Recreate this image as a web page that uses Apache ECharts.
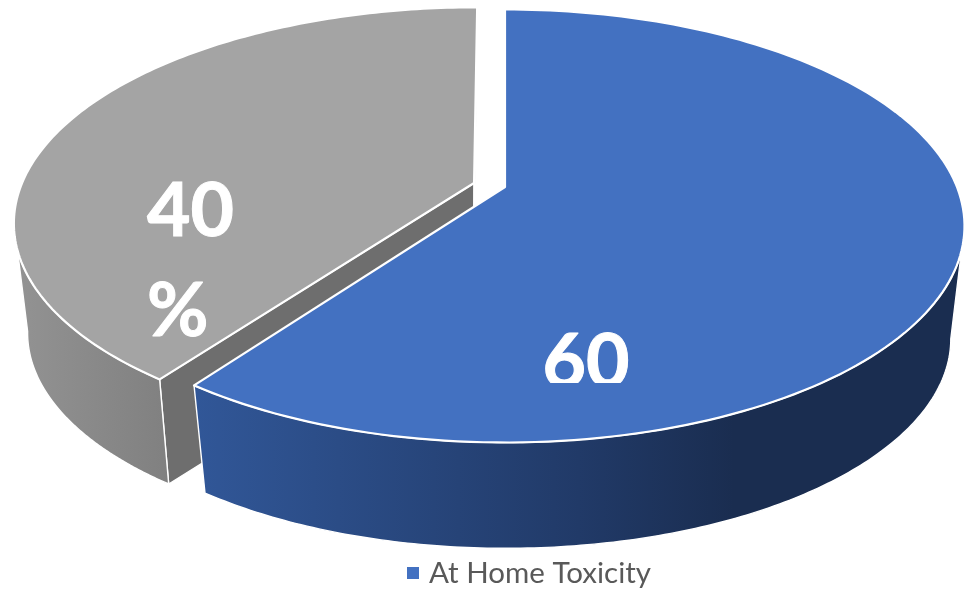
<!DOCTYPE html>
<html><head><meta charset="utf-8">
<style>html,body{margin:0;padding:0;background:#fff}#c{width:965px;height:591px}</style>
<script src="https://cdn.jsdelivr.net/npm/echarts@6/dist/echarts.min.js"></script>
</head><body><div id="c"></div>
<script>
const legendLabels = ['At Home Toxicity'];
const sliceValues = [60, 40];
const sliceLabels = [['60'], ['40', '%']];

const TAU = Math.PI * 2;
const geo = {cx:505, cy:187, R:452, Ry:209.5, k:0.18, s:0.968, bx:506, by:301};
const sliceStyle = [
  {top:'#4371C1', dx:0, dy:0, skew:0, vs:0, bdy:0, label:[586,363], align:'center', cover:[530,383,115,40],
   side:[[0,'#315798'],[0.5,'#213a68'],[0.7,'#1a2d50'],[1,'#1a2d50']]},
  {top:'#A4A4A4', dx:-31, dy:-4, skew:0.0175, vs:0.01, bdy:-2, label:[147,212], align:'left', wall:'#6e6e6e',
   side:[[0,'#939393'],[1,'#808080']]}
];
const FRONT_START = Math.PI - Math.asin(Math.sqrt(1 - geo.k * geo.k));
const FRONT_END = TAU - FRONT_START;

function place(x, y, off, bottom){
  const px = x + off.dx, py = y + off.dy;
  return [px - off.skew * (py - geo.cy), py - off.vs * (py - geo.cy) + (bottom ? off.bdy : 0)];
}
function pt(theta, off, bottom){
  const w = 1 + geo.k * Math.cos(theta);
  let x = geo.cx + geo.R * Math.sin(theta) / w;
  let y = geo.cy - geo.Ry * Math.cos(theta) / w;
  if (bottom){ x = geo.bx + geo.s * (x - geo.cx); y = geo.by + geo.s * (y - geo.cy); }
  return place(x, y, off, bottom);
}
function apex(off, bottom){
  return bottom ? place(geo.bx, geo.by, off, true) : place(geo.cx, geo.cy, off, false);
}
function arc(a, b, off, bottom){
  const pts = [], n = 160;
  for (let i = 0; i <= n; i++) pts.push(pt(a + (b - a) * i / n, off, bottom));
  return pts;
}
const total = sliceValues.reduce((p, v) => p + v, 0);
function range(i){
  let before = 0;
  for (let j = 0; j < i; j++) before += sliceValues[j];
  return [before / total * TAU, (before + sliceValues[i]) / total * TAU];
}
function poly(points, fill, z2, lineWidth){
  return {type:'polygon', z2, shape:{points},
    style:{fill, stroke:'#fff', lineWidth, lineJoin:'round'}};
}
function renderItem(params, api){
  const i = api.value(0), st = sliceStyle[i], [a, b] = range(i);
  const base = i === 0 ? 10 : 0;
  const kids = [];
  const f0 = Math.max(a, FRONT_START), f1 = Math.min(b, FRONT_END);
  if (st.wall){
    for (const t of [a, b]){
      kids.push(poly([apex(st,false), pt(t,st,false), pt(t,st,true), apex(st,true)], st.wall, base + 1, 1.4));
    }
  }
  if (f1 > f0){
    kids.push(poly(arc(f0,f1,st,false).concat(arc(f0,f1,st,true).reverse()),
      {type:'linear', x:0, y:0, x2:1, y2:0,
       colorStops: st.side.map(c => ({offset:c[0], color:c[1]}))}, base + 2, 1.4));
  }
  kids.push(poly([apex(st,false)].concat(arc(a,b,st,false)), st.top, base + 3, 2.2));
  const lines = sliceLabels[i];
  lines.forEach((t, n) => kids.push({type:'text', z2:30,
    style:{text:t, x:st.label[0], y:st.label[1] + n * 100, align:st.align, verticalAlign:'middle',
      fill:'#fff', stroke:'#fff', lineWidth:1, font:'bold 75px Lato'}}));
  if (st.cover){
    kids.push({type:'rect', z2:31, shape:{x:st.cover[0],y:st.cover[1],width:st.cover[2],height:st.cover[3]},
      style:{fill:st.top}});
  }
  return {type:'group', children:kids};
}
const chart = echarts.init(document.getElementById('c'), null, {renderer:'canvas'});
chart.setOption({
  animation:false,
  legend:{data:[legendLabels[0]], left:402, top:553, icon:'rect', itemWidth:12, itemHeight:12,
    itemGap:10, textStyle:{fontFamily:'Lato', fontSize:29.5, color:'#595959', padding:[0,0,0,5]}},
  series:[{type:'custom', name:legendLabels[0], coordinateSystem:'none', renderItem,
    itemStyle:{color:sliceStyle[0].top},
    data:[[1],[0]], silent:true, clip:false}]
});
</script></body></html>
